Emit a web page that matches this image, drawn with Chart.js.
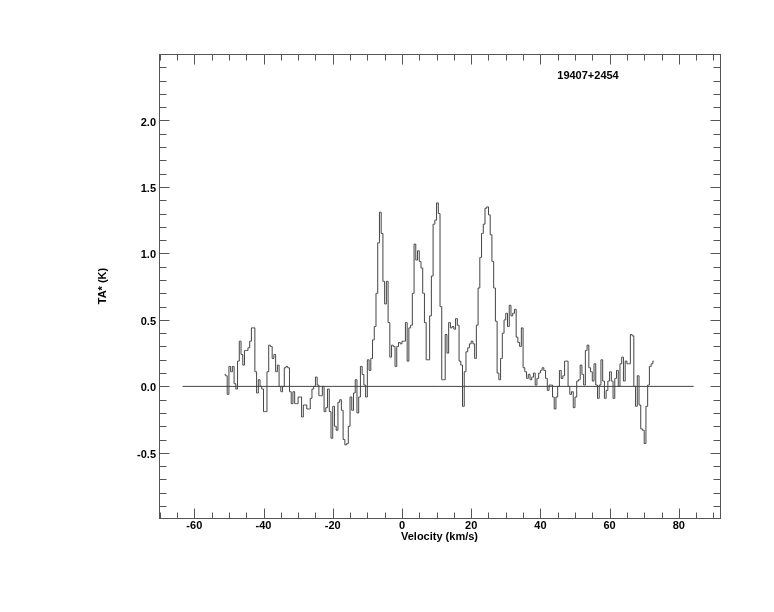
<!DOCTYPE html>
<html>
<head>
<meta charset="utf-8">
<script src="https://cdn.jsdelivr.net/npm/chart.js@4"></script>
<style>
  body { margin: 0; background: #fff; }
  canvas { display: block; }
</style>
</head>
<body>
<canvas id="spectrum" width="774" height="612"></canvas>
<script>
// channel velocities (km/s, channel centres)
const velocity = [
  -51.25, -50.75, -50.25, -49.75, -49.25, -48.75, -48.25, -47.75, -47.25, -46.75,
  -46.25, -45.75, -45.25, -44.75, -44.25, -43.75, -43.25, -42.75, -42.25, -41.75,
  -41.25, -40.75, -40.25, -39.75, -39.25, -38.75, -38.25, -37.75, -37.25, -36.75,
  -36.25, -35.75, -35.25, -34.75, -34.25, -33.75, -33.25, -32.75, -32.25, -31.75,
  -31.25, -30.75, -30.25, -29.75, -29.25, -28.75, -28.25, -27.75, -27.25, -26.75,
  -26.25, -25.75, -25.25, -24.75, -24.25, -23.75, -23.25, -22.75, -22.25, -21.75,
  -21.25, -20.75, -20.25, -19.75, -19.25, -18.75, -18.25, -17.75, -17.25, -16.75,
  -16.25, -15.75, -15.25, -14.75, -14.25, -13.75, -13.25, -12.75, -12.25, -11.75,
  -11.25, -10.75, -10.25, -9.75, -9.25, -8.75, -8.25, -7.75, -7.25, -6.75,
  -6.25, -5.75, -5.25, -4.75, -4.25, -3.75, -3.25, -2.75, -2.25, -1.75,
  -1.25, -0.75, -0.25, 0.25, 0.75, 1.25, 1.75, 2.25, 2.75, 3.25,
  3.75, 4.25, 4.75, 5.25, 5.75, 6.25, 6.75, 7.25, 7.75, 8.25,
  8.75, 9.25, 9.75, 10.25, 10.75, 11.25, 11.75, 12.25, 12.75, 13.25,
  13.75, 14.25, 14.75, 15.25, 15.75, 16.25, 16.75, 17.25, 17.75, 18.25,
  18.75, 19.25, 19.75, 20.25, 20.75, 21.25, 21.75, 22.25, 22.75, 23.25,
  23.75, 24.25, 24.75, 25.25, 25.75, 26.25, 26.75, 27.25, 27.75, 28.25,
  28.75, 29.25, 29.75, 30.25, 30.75, 31.25, 31.75, 32.25, 32.75, 33.25,
  33.75, 34.25, 34.75, 35.25, 35.75, 36.25, 36.75, 37.25, 37.75, 38.25,
  38.75, 39.25, 39.75, 40.25, 40.75, 41.25, 41.75, 42.25, 42.75, 43.25,
  43.75, 44.25, 44.75, 45.25, 45.75, 46.25, 46.75, 47.25, 47.75, 48.25,
  48.75, 49.25, 49.75, 50.25, 50.75, 51.25, 51.75, 52.25, 52.75, 53.25,
  53.75, 54.25, 54.75, 55.25, 55.75, 56.25, 56.75, 57.25, 57.75, 58.25,
  58.75, 59.25, 59.75, 60.25, 60.75, 61.25, 61.75, 62.25, 62.75, 63.25,
  63.75, 64.25, 64.75, 65.25, 65.75, 66.25, 66.75, 67.25, 67.75, 68.25,
  68.75, 69.25, 69.75, 70.25, 70.75, 71.25, 71.75, 72.25, 72.75
];

// antenna temperature TA* (K) per channel
const antennaTemp = [
  0.09, 0.08, -0.06, 0.15, 0.11, 0.15, 0.02, -0.02, 0.19, 0.34,
  0.24, 0.16, 0.27, 0.27, 0.29, 0.34, 0.44, 0.44, 0.11, -0.05,
  0.05, 0.00, -0.02, -0.19, -0.19, 0.11, 0.31, 0.30, 0.21, 0.24,
  0.11, 0.16, 0.00, -0.04, 0.00, 0.14, 0.15, 0.14, -0.04, -0.13,
  -0.04, -0.13, -0.13, -0.08, -0.08, -0.23, -0.14, -0.14, -0.17, -0.17,
  -0.09, -0.02, 0.00, 0.07, 0.01, -0.07, -0.07, 0.00, -0.19, -0.16,
  -0.02, -0.19, -0.39, -0.15, -0.30, -0.33, -0.12, -0.10, -0.18, -0.40,
  -0.44, -0.43, -0.30, -0.08, -0.18, -0.05, 0.05, -0.20, -0.08, 0.15,
  0.09, 0.01, -0.08, 0.20, 0.12, 0.21, 0.35, 0.45, 0.70, 1.08,
  1.31, 1.15, 0.79, 0.62, 0.79, 0.48, 0.22, 0.31, 0.30, 0.15,
  0.30, 0.33, 0.32, 0.34, 0.34, 0.48, 0.19, 0.44, 0.46, 0.70,
  1.07, 0.95, 1.02, 0.94, 0.89, 0.70, 0.48, 0.20, 0.20, 0.53,
  0.83, 1.22, 1.25, 1.38, 1.30, 0.60, 0.05, 0.05, 0.39, 0.25,
  0.48, 0.44, 0.45, 0.43, 0.51, 0.46, 0.19, 0.16, -0.15, 0.11,
  0.26, 0.29, 0.32, 0.34, 0.32, 0.21, 0.46, 0.74, 0.97, 1.15,
  1.22, 1.34, 1.35, 1.29, 1.14, 0.94, 0.74, 0.49, 0.10, 0.05,
  0.21, 0.40, 0.50, 0.55, 0.45, 0.61, 0.53, 0.55, 0.58, 0.37,
  0.33, 0.30, 0.44, 0.14, 0.11, 0.06, 0.09, 0.05, 0.07, 0.10,
  0.01, 0.06, 0.10, 0.12, 0.14, 0.12, 0.06, -0.03, 0.01, 0.01,
  -0.08, -0.17, -0.08, 0.00, 0.12, 0.06, 0.08, 0.19, 0.19, 0.00,
  -0.06, -0.04, -0.16, -0.08, 0.04, 0.05, 0.16, 0.09, 0.01, 0.27,
  0.31, 0.14, 0.11, 0.04, 0.17, 0.01, -0.09, 0.01, 0.20, 0.04,
  -0.09, -0.03, 0.04, 0.11, 0.04, -0.09, 0.06, 0.12, 0.00, 0.17,
  0.22, 0.04, 0.19, 0.17, 0.17, 0.39, 0.38, 0.00, -0.15, 0.08,
  -0.14, -0.32, -0.33, -0.43, -0.15, 0.01, 0.15, 0.17, 0.19
];

// zero line
const baseVel = [-63.4, 84.3];
const baseLevel = [0, 0];

const xTicks = [-60, -40, -20, 0, 20, 40, 60, 80];
const yTicks = [-0.5, 0.0, 0.5, 1.0, 1.5, 2.0];
const sourceName = "19407+2454";

const FONT = { family: '"Liberation Sans", Arial, Helvetica, sans-serif', size: 11, weight: "bold" };

// IDL-style frame with inward major/minor ticks on all four sides
const frameTicks = {
  id: "frameTicks",
  afterDraw(chart) {
    const { ctx, chartArea: a, scales } = chart;
    const L = Math.round(a.left) + 0.5, R = Math.round(a.right) + 0.5;
    const T = Math.round(a.top) + 0.5, B = Math.round(a.bottom) + 0.5;
    ctx.save();
    ctx.strokeStyle = "#555";
    ctx.lineWidth = 1;
    ctx.strokeRect(L, T, R - L, B - T);
    ctx.beginPath();
    for (let v = -70; v <= 90; v += 5) {
      const px = Math.round(scales.x.getPixelForValue(v)) + 0.5;
      if (px <= L || px >= R) continue;
      const len = v % 20 === 0 ? 10 : 6;
      ctx.moveTo(px, B); ctx.lineTo(px, B - len);
      ctx.moveTo(px, T); ctx.lineTo(px, T + len);
    }
    for (let i = -9; i <= 25; i++) {
      const v = i / 10;
      const py = Math.round(scales.y.getPixelForValue(v)) + 0.5;
      if (py <= T || py >= B) continue;
      const len = i % 5 === 0 ? 10 : 7;
      ctx.moveTo(L, py); ctx.lineTo(L + len, py);
      ctx.moveTo(R, py); ctx.lineTo(R - len, py);
    }
    ctx.stroke();

    ctx.fillStyle = "#000";
    ctx.font = "bold 11px " + FONT.family;
    ctx.textAlign = "center";
    ctx.textBaseline = "middle";
    ctx.fillText(sourceName, 588, 76);
    ctx.restore();
  }
};

document.addEventListener("DOMContentLoaded", function () {
  const ctx = document.getElementById("spectrum").getContext("2d");
  const myChart = new Chart(ctx, {
    type: "line",
    data: {
      datasets: [
        {
          label: "TA*",
          data: velocity.map((v, i) => ({ x: v, y: antennaTemp[i] })),
          stepped: "middle",
          borderColor: "#444",
          borderWidth: 1,
          pointRadius: 0,
          fill: false,
        },
        {
          label: "zero",
          data: baseVel.map((v, i) => ({ x: v, y: baseLevel[i] })),
          borderColor: "#444",
          borderWidth: 1,
          pointRadius: 0,
          fill: false,
        },
      ],
    },
    options: {
      responsive: false,
      devicePixelRatio: 1,
      animation: false,
      layout: { padding: { left: 90, right: 54, top: 54, bottom: 67 } },
      scales: {
        x: {
          type: "linear",
          min: -70.2,
          max: 91.9,
          afterFit: (scale) => { scale.height = 27; },
          afterBuildTicks: (scale) => { scale.ticks = xTicks.map((v) => ({ value: v })); },
          grid: { display: false, drawTicks: false },
          border: { display: false },
          ticks: { color: "#000", font: FONT, padding: 1, maxRotation: 0 },
          title: {
            display: true,
            text: "Velocity (km/s)",
            color: "#000",
            font: FONT,
            padding: { top: 0, bottom: 1 },
          },
        },
        y: {
          type: "linear",
          min: -0.99,
          max: 2.5,
          afterFit: (scale) => { scale.width = 69; },
          afterBuildTicks: (scale) => { scale.ticks = yTicks.map((v) => ({ value: v })); },
          grid: { display: false, drawTicks: false },
          border: { display: false },
          ticks: {
            color: "#000",
            font: FONT,
            padding: 3,
            labelOffset: 2,
            callback: (v) => Number(v).toFixed(1),
          },
          title: {
            display: true,
            text: "TA* (K)",
            color: "#000",
            font: FONT,
            padding: { top: 6, bottom: 0 },
          },
        },
      },
      plugins: {
        legend: { display: false },
        tooltip: { enabled: false },
      },
    },
    plugins: [frameTicks],
  });
});
</script>
</body>
</html>
